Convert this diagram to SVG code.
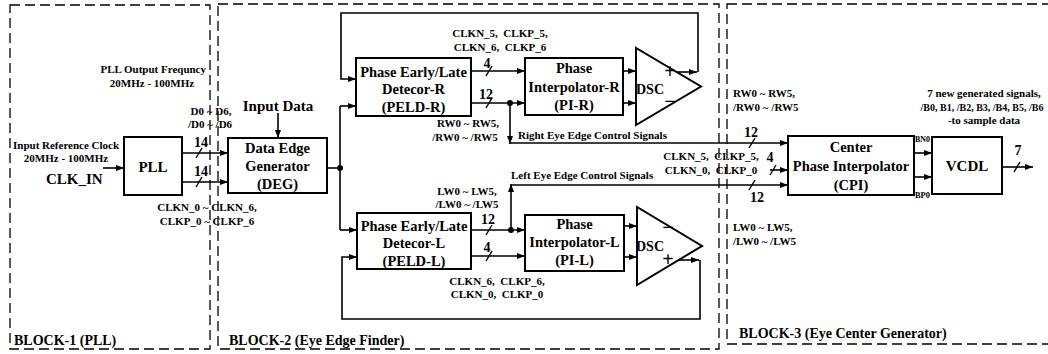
<svg xmlns="http://www.w3.org/2000/svg" width="1048" height="354" viewBox="0 0 1048 354">
<defs>
<marker id="ah" markerWidth="8" markerHeight="6" refX="8" refY="3" orient="auto" markerUnits="userSpaceOnUse"><path d="M0,0 L8,3 L0,6 Z" fill="#000"/></marker>
<style>
text{font-family:"Liberation Serif","Times New Roman",serif;font-weight:bold;fill:#000}
.s{font-size:11px;white-space:pre}
.m{font-size:14.5px;text-anchor:middle}
.n{font-size:14px;text-anchor:middle}
.c{text-anchor:middle}
.blk{font-size:14px}
.pm{font-size:20px;text-anchor:middle}
.box{fill:#fff;stroke:#000;stroke-width:2}
.dash{fill:none;stroke:#000;stroke-width:1.3;stroke-dasharray:10,5}
.w{fill:none;stroke:#000;stroke-width:1.6}
.a{fill:none;stroke:#000;stroke-width:1.6;marker-end:url(#ah)}
.sl{stroke:#000;stroke-width:1.4}
</style>
</defs>
<rect width="1048" height="354" fill="#fff"/>
<g id="blocks">
<rect class="dash" x="10" y="5" width="200" height="344"/>
<rect class="dash" x="218" y="4" width="501" height="345"/>
<rect class="dash" x="727" y="4" width="330" height="340"/>
<text class="blk" x="14" y="345">BLOCK-1 (PLL)</text>
<text class="blk" x="229" y="345">BLOCK-2 (Eye Edge Finder)</text>
<text class="blk" x="739" y="338">BLOCK-3 (Eye Center Generator)</text>
</g>
<g id="connectors">
<line class="a" x1="103" y1="168" x2="124" y2="168"/>
<line class="a" x1="182" y1="153" x2="228" y2="153"/>
<line class="a" x1="182" y1="182" x2="228" y2="182"/>
<line class="sl" x1="196" y1="158" x2="202" y2="148"/>
<line class="sl" x1="196" y1="187" x2="202" y2="177"/>
<line class="a" x1="278" y1="113" x2="278" y2="138"/>
<line class="w" x1="327" y1="168" x2="340" y2="168"/>
<circle cx="340" cy="168" r="3"/>
<polyline class="w" points="340,106 340,230"/>
<line class="a" x1="340" y1="106" x2="356" y2="106"/>
<line class="a" x1="340" y1="230" x2="357" y2="230"/>
<polyline class="a" points="698,72 698,13 341,13 341,79 356,79"/>
<line class="a" x1="677" y1="72" x2="697" y2="72"/>
<polyline class="a" points="700,260 700,319 342,319 342,257 357,257"/>
<line class="a" x1="675" y1="260" x2="699" y2="260"/>
<line class="a" x1="471" y1="71" x2="525" y2="71"/>
<line class="a" x1="471" y1="103" x2="525" y2="103"/>
<line class="sl" x1="486" y1="76" x2="492" y2="66"/>
<line class="sl" x1="486" y1="108" x2="492" y2="98"/>
<circle cx="510" cy="103" r="3"/>
<line class="a" x1="510" y1="103" x2="510" y2="144"/>
<line class="a" x1="510" y1="143" x2="788" y2="143"/>
<line class="a" x1="623" y1="71" x2="636" y2="71"/>
<line class="a" x1="623" y1="103" x2="636" y2="103"/>
<line class="a" x1="471" y1="230" x2="525" y2="230"/>
<line class="a" x1="471" y1="256" x2="525" y2="256"/>
<line class="sl" x1="486" y1="235" x2="492" y2="225"/>
<line class="sl" x1="486" y1="261" x2="492" y2="251"/>
<circle cx="511" cy="230" r="3"/>
<line class="a" x1="511" y1="230" x2="511" y2="184"/>
<line class="a" x1="511" y1="185" x2="788" y2="185"/>
<line class="a" x1="624" y1="226" x2="637" y2="226"/>
<line class="a" x1="624" y1="257" x2="637" y2="257"/>
<line class="sl" x1="749" y1="148" x2="755" y2="138"/>
<line class="sl" x1="749" y1="190" x2="755" y2="180"/>
<line class="a" x1="770" y1="170" x2="788" y2="170"/>
<line class="sl" x1="770" y1="175" x2="776" y2="165"/>
<line class="a" x1="914" y1="153" x2="932" y2="153"/>
<line class="a" x1="914" y1="177" x2="932" y2="177"/>
<line class="a" x1="1002" y1="167" x2="1033" y2="167"/>
<line class="sl" x1="1014" y1="172" x2="1020" y2="162"/>
</g>
<g id="pll">
<rect class="box" x="124" y="137" width="58" height="58"/>
<text class="m" x="153" y="172" style="font-size:15px">PLL</text>
</g>
<g id="deg">
<rect class="box" x="228" y="138" width="99" height="55"/>
<text class="m" x="277.5" y="153">Data Edge</text>
<text class="m" x="277.5" y="171">Generator</text>
<text class="m" x="277.5" y="189">(DEG)</text>
</g>
<g id="peld-r">
<rect class="box" x="356" y="58" width="115" height="58"/>
<text class="m" x="413.5" y="77">Phase Early/Late</text>
<text class="m" x="413.5" y="94">Detecor-R</text>
<text class="m" x="413.5" y="112">(PELD-R)</text>
</g>
<g id="pi-r">
<rect class="box" x="525" y="58" width="98" height="57"/>
<text class="m" x="574" y="73">Phase</text>
<text class="m" x="574" y="92">Interpolator-R</text>
<text class="m" x="574" y="110">(PI-R)</text>
</g>
<g id="dsc-r">
<polygon class="box" points="636,48 636,125 701,86.5"/>
<text class="m" x="650" y="94" style="font-size:14px">DSC</text>
<text class="pm" x="670" y="78">+</text>
<text class="pm" x="670" y="108">−</text>
</g>
<g id="peld-l">
<rect class="box" x="357" y="213" width="114" height="56"/>
<text class="m" x="414" y="231">Phase Early/Late</text>
<text class="m" x="414" y="248">Detecor-L</text>
<text class="m" x="414" y="266">(PELD-L)</text>
</g>
<g id="pi-l">
<rect class="box" x="525" y="215" width="99" height="56"/>
<text class="m" x="574.5" y="229">Phase</text>
<text class="m" x="574.5" y="247">Interpolator-L</text>
<text class="m" x="574.5" y="265">(PI-L)</text>
</g>
<g id="dsc-l">
<polygon class="box" points="637,207 637,285 702,246"/>
<text class="m" x="650" y="251" style="font-size:14px">DSC</text>
<text class="pm" x="668" y="234">−</text>
<text class="pm" x="668" y="266">+</text>
</g>
<g id="cpi">
<rect class="box" x="788" y="136" width="126" height="59"/>
<text class="m" x="851" y="152">Center</text>
<text class="m" x="851" y="171">Phase Interpolator</text>
<text class="m" x="851" y="190">(CPI)</text>
</g>
<g id="vcdl">
<rect class="box" x="932" y="137" width="70" height="57"/>
<text class="m" x="967" y="171" style="font-size:15px">VCDL</text>
</g>
<g id="labels">
<text class="s" x="13" y="149">Input Reference Clock</text>
<text class="s c" x="66" y="162">20MHz - 100MHz</text>
<text x="46" y="184" style="font-size:15px">CLK_IN</text>
<text class="s" x="206" y="73" text-anchor="end">PLL Output Frequncy</text>
<text class="s c" x="152" y="87">20MHz - 100MHz</text>
<text class="s c" x="211" y="115">D0 ~ D6,</text>
<text class="s c" x="210" y="128">/D0 ~ /D6</text>
<text class="n" x="201" y="147">14</text>
<text class="n" x="201" y="176">14</text>
<text class="m" x="278" y="111" style="font-size:15px">Input Data</text>
<text class="s c" x="207" y="211">CLKN_0 ~ CLKN_6,</text>
<text class="s c" x="207" y="225">CLKP_0 ~ CLKP_6</text>
<text class="s c" x="500" y="37">CLKN_5,  CLKP_5,</text>
<text class="s c" x="500" y="51">CLKN_6,  CLKP_6</text>
<text class="n" x="487" y="68">4</text>
<text class="n" x="486" y="99">12</text>
<text class="s c" x="468" y="127">RW0 ~ RW5,</text>
<text class="s c" x="465" y="141">/RW0 ~ /RW5</text>
<text class="s" x="518" y="139">Right Eye Edge Control Signals</text>
<text class="s c" x="467" y="195">LW0 ~ LW5,</text>
<text class="s c" x="467" y="208">/LW0 ~ /LW5</text>
<text class="n" x="488" y="224">12</text>
<text class="n" x="487" y="252">4</text>
<text class="s c" x="497" y="285">CLKN_6,  CLKP_6,</text>
<text class="s c" x="497" y="298">CLKN_0,  CLKP_0</text>
<text class="s" x="511" y="179">Left Eye Edge Control Signals</text>
<text class="s" x="733" y="97">RW0 ~ RW5,</text>
<text class="s" x="733" y="111">/RW0 ~ /RW5</text>
<text class="n" x="751" y="137">12</text>
<text class="n" x="770" y="162">4</text>
<text class="n" x="757" y="202">12</text>
<text class="s c" x="711" y="160">CLKN_5,  CLKP_5,</text>
<text class="s c" x="711" y="174">CLKN_0,  CLKP_0</text>
<text class="s" x="733" y="231">LW0 ~ LW5,</text>
<text class="s" x="733" y="245">/LW0 ~ /LW5</text>
<text class="s c" x="984" y="97">7 new generated signals,</text>
<text class="s c" x="982" y="111" style="font-size:10px">/B0, B1, /B2, B3, /B4, B5, /B6</text>
<text class="s c" x="984" y="124">-to sample data</text>
<text x="915" y="142" style="font-size:9px" textLength="15" lengthAdjust="spacingAndGlyphs">BN0</text>
<text x="915" y="198" style="font-size:9px" textLength="15" lengthAdjust="spacingAndGlyphs">BP0</text>
<text class="n" x="1018" y="155">7</text>
</g>
</svg>
